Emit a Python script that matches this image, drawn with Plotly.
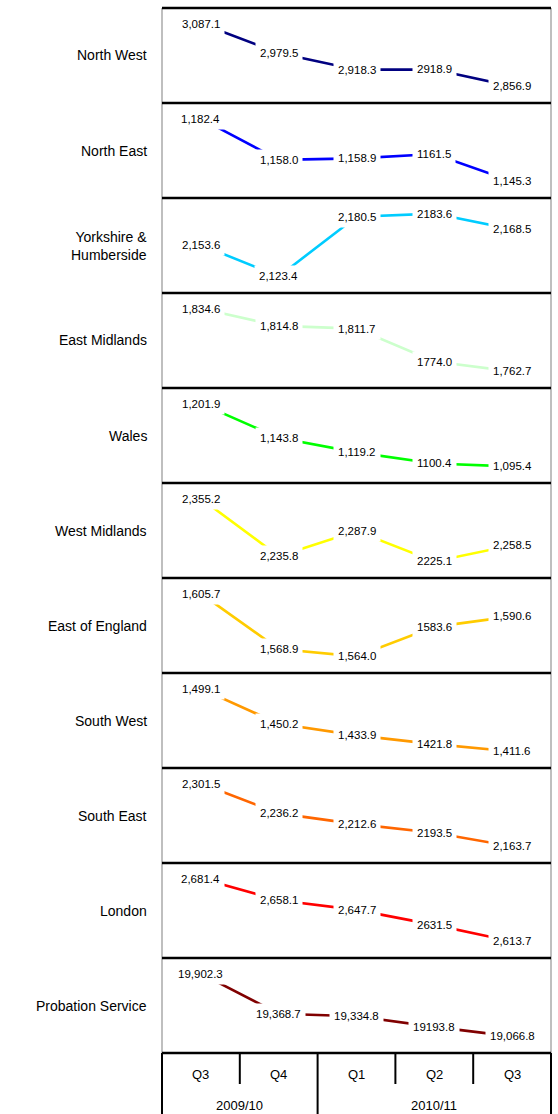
import plotly.graph_objects as go
from plotly.subplots import make_subplots

# ---- data ----
regions = ["North West", "North East", "Yorkshire &<br>Humberside", "East Midlands", "Wales",
           "West Midlands", "East of England", "South West", "South East", "London",
           "Probation Service"]
quarters = ["Q3", "Q4", "Q1", "Q2", "Q3"]
years = ["2009/10", "2010/11"]
quarters_per_year = [2, 3]

north_west = [3087.1, 2979.5, 2918.3, 2918.9, 2856.9]
north_east = [1182.4, 1158.0, 1158.9, 1161.5, 1145.3]
yorkshire = [2153.6, 2123.4, 2180.5, 2183.6, 2168.5]
east_midlands = [1834.6, 1814.8, 1811.7, 1774.0, 1762.7]
wales = [1201.9, 1143.8, 1119.2, 1100.4, 1095.4]
west_midlands = [2355.2, 2235.8, 2287.9, 2225.1, 2258.5]
east_of_england = [1605.7, 1568.9, 1564.0, 1583.6, 1590.6]
south_west = [1499.1, 1450.2, 1433.9, 1421.8, 1411.6]
south_east = [2301.5, 2236.2, 2212.6, 2193.5, 2163.7]
london = [2681.4, 2658.1, 2647.7, 2631.5, 2613.7]
probation = [19902.3, 19368.7, 19334.8, 19193.8, 19066.8]

series = [north_west, north_east, yorkshire, east_midlands, wales, west_midlands,
          east_of_england, south_west, south_east, london, probation]
colors = ["#000080", "#0000FF", "#00CCFF", "#CCFFCC", "#00FF00", "#FFFF00",
          "#FFCC00", "#FF9900", "#FF6600", "#FF0000", "#800000"]
# the Q2 2010/11 labels are shown without a thousands separator
no_comma_col = 3

W, H = 558, 1114
ML, MR, MT, MB = 162, 7, 8, 61
plot_h = H - MT - MB
n = len(series)

fig = make_subplots(rows=n, cols=1, vertical_spacing=0)
xs = list(range(len(quarters)))
font = "Liberation Sans, Arial, sans-serif"

annotations = []
for i, (vals, col) in enumerate(zip(series, colors), start=1):
    fig.add_trace(go.Scatter(x=xs, y=vals, mode="lines",
                             line=dict(color=col, width=2.6),
                             hoverinfo="skip", showlegend=False), row=i, col=1)
    vmax, vmin = max(vals), min(vals)
    span = vmax - vmin
    fig.update_yaxes(range=[vmin - 16.5 * span / 62.5, vmax + 15.5 * span / 62.5],
                     visible=False, row=i, col=1)
    fig.update_xaxes(range=[-0.5, len(quarters) - 0.5], visible=False, row=i, col=1)
    sfx = "" if i == 1 else str(i)
    for j, v in enumerate(vals):
        txt = f"{v:.1f}" if j == no_comma_col else f"{v:,.1f}"
        annotations.append(dict(x=j, y=v, xref="x" + sfx, yref="y" + sfx, text=txt,
                                showarrow=False, bgcolor="white", borderpad=4,
                                font=dict(family=font, size=11.5, color="#000000")))
    # region label
    yc = 1 - (i - 0.5) / n
    annotations.append(dict(x=0, y=yc, xref="paper", yref="paper", text=regions[i - 1],
                            xanchor="right", yanchor="middle", xshift=-13, align="right",
                            showarrow=False,
                            font=dict(family=font, size=14, color="#000000")))

shapes = []
# grey side borders of the panels
for xp in (0, 1):
    shapes.append(dict(type="line", xref="paper", yref="paper", x0=xp, x1=xp, y0=0, y1=1,
                       line=dict(color="#BFBFBF", width=2)))
# black separators between panels
for k in range(n + 1):
    shapes.append(dict(type="line", xref="paper", yref="paper", x0=0, x1=1,
                       y0=k / n, y1=k / n, line=dict(color="#000000", width=2.5)))

# category table under the panels
px = 1.0 / plot_h
bx = "x" + str(n)
bottom = -(MB + 5) * px
for xp in (0, 1):
    shapes.append(dict(type="line", xref="paper", yref="paper", x0=xp, x1=xp, y0=0,
                       y1=bottom, line=dict(color="#000000", width=2)))
year_bounds = []
acc = 0
for c in quarters_per_year[:-1]:
    acc += c
    year_bounds.append(acc)
for b in range(1, len(quarters)):
    full = b in year_bounds
    shapes.append(dict(type="line", xref=bx, yref="paper", x0=b - 0.5, x1=b - 0.5, y0=0,
                       y1=bottom if full else -31 * px,
                       line=dict(color="#000000", width=2)))
for j, q in enumerate(quarters):
    annotations.append(dict(x=j, y=-21 * px, xref=bx, yref="paper", text=q,
                            showarrow=False, yanchor="middle",
                            font=dict(family=font, size=13, color="#000000")))
start = 0
for yname, c in zip(years, quarters_per_year):
    annotations.append(dict(x=start + (c - 1) / 2, y=-52 * px, xref=bx, yref="paper",
                            text=yname, showarrow=False, yanchor="middle",
                            font=dict(family=font, size=13, color="#000000")))
    start += c

fig.update_layout(width=W, height=H, margin=dict(l=ML, r=MR, t=MT, b=MB),
                  paper_bgcolor="white", plot_bgcolor="white",
                  annotations=annotations, shapes=shapes, showlegend=False)

fig.write_html("out.html")
